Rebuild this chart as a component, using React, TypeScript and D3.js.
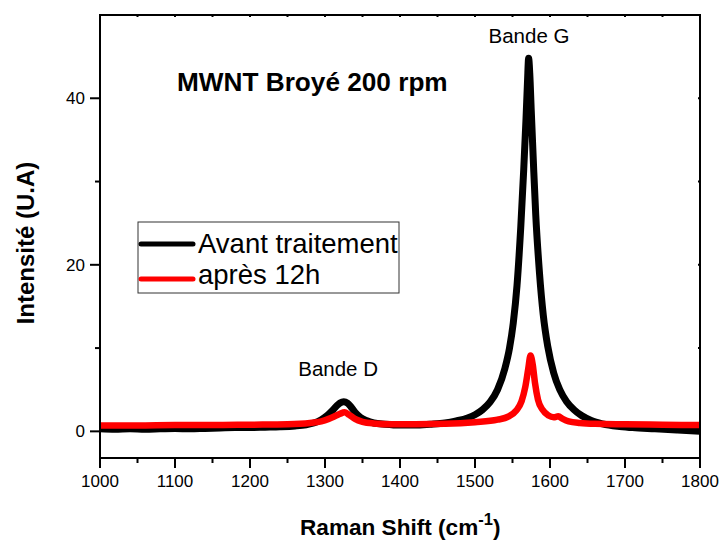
import React from "react";
import * as d3 from "d3";

// Raman spectrum, "Avant traitement" (black)
const blackX = [1000, 1020, 1040, 1060, 1080, 1100, 1120, 1140, 1160, 1180, 1200, 1220, 1240, 1260, 1275, 1285, 1295, 1303, 1310, 1316, 1320, 1325, 1330, 1335, 1340, 1347, 1355, 1365, 1380, 1400, 1420, 1440, 1460, 1475, 1490, 1500, 1510, 1520, 1530, 1540, 1546, 1551, 1556, 1561, 1565, 1568, 1570, 1571.5, 1573, 1575, 1578, 1581, 1586, 1591, 1597, 1605, 1613, 1622, 1632, 1642, 1655, 1670, 1690, 1710, 1740, 1770, 1800];
const blackY = [0.3, 0.25, 0.3, 0.25, 0.3, 0.35, 0.3, 0.35, 0.4, 0.45, 0.45, 0.5, 0.55, 0.65, 0.8, 1.0, 1.4, 1.9, 2.5, 3.1, 3.4, 3.55, 3.4, 2.9, 2.3, 1.7, 1.3, 1.0, 0.85, 0.75, 0.75, 0.85, 1.0, 1.25, 1.6, 2.0, 2.6, 3.5, 5.0, 7.6, 10.0, 13.0, 17.5, 24.5, 31.5, 37.5, 42, 44.8, 43, 38.5, 32, 26, 19, 14, 10.2, 7.0, 5.0, 3.6, 2.6, 1.9, 1.3, 0.9, 0.6, 0.45, 0.3, 0.15, 0.0];

// Raman spectrum, "après 12h" (red)
const redX = [1000, 1050, 1100, 1150, 1200, 1250, 1280, 1295, 1305, 1315, 1320, 1326, 1332, 1340, 1350, 1365, 1390, 1420, 1460, 1500, 1530, 1545, 1555, 1562, 1567, 1571, 1574, 1577, 1580, 1584, 1590, 1598, 1605, 1611, 1617, 1625, 1640, 1660, 1700, 1750, 1800];
const redY = [0.7, 0.7, 0.75, 0.75, 0.8, 0.85, 1.0, 1.2, 1.5, 1.9, 2.1, 2.3, 2.0, 1.5, 1.15, 0.95, 0.85, 0.85, 0.9, 1.1, 1.4, 1.8, 2.5, 3.6, 5.3, 7.5, 9.1, 8.0, 5.8, 3.8, 2.6, 1.9, 1.7, 1.8, 1.5, 1.2, 1.0, 0.9, 0.85, 0.8, 0.75];

const xMajorTicks = [1000, 1100, 1200, 1300, 1400, 1500, 1600, 1700, 1800];
const xMinorTicks = [1050, 1150, 1250, 1350, 1450, 1550, 1650, 1750];
const yMajorTicks = [0, 20, 40];
const yMinorTicks = [10, 30];
const xDomain = [1000, 1800];
const yDomain = [-3.2, 50];

const seriesNames = ["Avant traitement", "après 12h"];
const seriesColors = ["#000000", "#ff0000"];
const titleText = "MWNT Broyé 200 rpm";
const bandLabels = [
  { text: "Bande D", x: 1317.5, y: 6.6 },
  { text: "Bande G", x: 1572, y: 46.6 },
];

const FONT = "'Liberation Sans', Arial, Helvetica, sans-serif";

export default function App() {
  const W = 723, H = 541;
  const left = 100, right = 700, top = 15, bottom = 458;
  const x = d3.scaleLinear().domain(xDomain).range([left, right]);
  const y = d3.scaleLinear().domain(yDomain).range([bottom, top]);

  const line = d3
    .line<[number, number]>()
    .x((d) => x(d[0]))
    .y((d) => y(d[1]))
    .curve(d3.curveMonotoneX);

  const blackPts = blackX.map((v, i) => [v, blackY[i]] as [number, number]);
  const redPts = redX.map((v, i) => [v, redY[i]] as [number, number]);

  return (
    <svg
      width={W}
      height={H}
      style={{ position: "absolute", left: 0, top: 0, background: "#fff" }}
      fontFamily={FONT}
    >
      <defs>
        <clipPath id="plotclip">
          <rect x={left} y={top} width={right - left} height={bottom - top} />
        </clipPath>
      </defs>
      <rect x={0} y={0} width={W} height={H} fill="#fff" />

      {/* data */}
      <g clipPath="url(#plotclip)" fill="none" strokeLinejoin="round" strokeLinecap="round">
        <path d={line(blackPts) || ""} stroke={seriesColors[0]} strokeWidth={7} />
        <path d={line(redPts) || ""} stroke={seriesColors[1]} strokeWidth={6.5} />
      </g>

      {/* frame */}
      <g stroke="#000" strokeWidth={2} fill="none">
        <line x1={left} y1={top} x2={right + 1} y2={top} />
        <line x1={right} y1={top} x2={right} y2={bottom} />
        <line x1={left} y1={top - 1} x2={left} y2={bottom + 1} />
        <line x1={left - 1} y1={bottom} x2={right + 1} y2={bottom} />
      </g>

      {/* ticks */}
      <g stroke="#000" strokeWidth={2}>
        {xMajorTicks.map((t) => (
          <line key={"xM" + t} x1={x(t)} x2={x(t)} y1={bottom} y2={bottom + 10} />
        ))}
        {xMinorTicks.map((t) => (
          <line key={"xm" + t} x1={x(t)} x2={x(t)} y1={bottom} y2={bottom + 5} />
        ))}
        {xMajorTicks.concat(xMinorTicks).map((t) => (
          <line key={"xt" + t} x1={x(t)} x2={x(t)} y1={top} y2={top + 2} />
        ))}
        {yMajorTicks.map((t) => (
          <line key={"yM" + t} x1={left - 10} x2={left} y1={y(t)} y2={y(t)} />
        ))}
        {yMinorTicks.map((t) => (
          <line key={"ym" + t} x1={left - 5} x2={left} y1={y(t)} y2={y(t)} />
        ))}
        {yMajorTicks.concat(yMinorTicks).map((t) => (
          <line key={"yr" + t} x1={right - 2} x2={right} y1={y(t)} y2={y(t)} />
        ))}
      </g>

      {/* tick labels */}
      <g fontSize={17} fill="#000">
        {xMajorTicks.map((t) => (
          <text key={"xl" + t} x={x(t)} y={487} textAnchor="middle">
            {t}
          </text>
        ))}
        {yMajorTicks.map((t) => (
          <text key={"yl" + t} x={left - 15} y={y(t) + 6} textAnchor="end">
            {t}
          </text>
        ))}
      </g>

      {/* axis titles */}
      <text x={300} y={535} fontSize={22.6} fontWeight="bold" fill="#000">
        Raman Shift (cm
        <tspan fontSize={16.5} dy={-10}>-1</tspan>
        <tspan dy={10}>)</tspan>
      </text>
      <text
        transform={`translate(34, 243) rotate(-90)`}
        textAnchor="middle"
        fontSize={24}
        fontWeight="bold"
        fill="#000"
      >
        Intensité (U.A)
      </text>

      {/* title */}
      <text x={177} y={91} fontSize={26.2} fontWeight="bold" fill="#000">
        {titleText}
      </text>

      {/* band labels */}
      {bandLabels.map((b) => (
        <text key={b.text} x={x(b.x)} y={y(b.y)} textAnchor="middle" fontSize={20.5} fill="#000">
          {b.text}
        </text>
      ))}

      {/* legend */}
      <g>
        <rect x={138} y={222} width={261} height={71} fill="#fff" stroke="#333" strokeWidth={1} />
        {seriesNames.map((n, i) => (
          <g key={n}>
            <line
              x1={141}
              x2={193}
              y1={244 + i * 35}
              y2={244 + i * 35}
              stroke={seriesColors[i]}
              strokeWidth={5}
              strokeLinecap="round"
            />
            <text x={198} y={253 + i * 31} fontSize={27.5} fill="#000">
              {n}
            </text>
          </g>
        ))}
      </g>
    </svg>
  );
}
